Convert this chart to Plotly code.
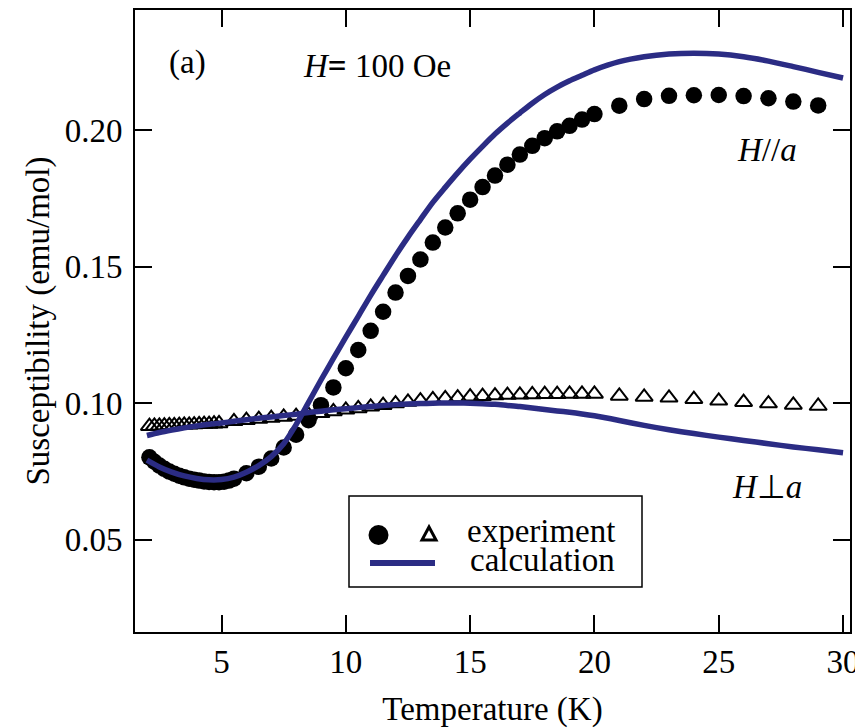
import plotly.graph_objects as go

# ---------------- data ----------------
# H // a, experiment (filled circles)
T_par_exp = [2.1, 2.3, 2.5, 2.7, 2.9, 3.1, 3.3, 3.5, 3.7, 3.9, 4.1, 4.3, 4.5, 4.7, 4.9, 5.1, 5.3, 5.5,
             6.0, 6.5, 7.0, 7.5, 8.0, 8.5, 9.0, 9.5, 10.0, 10.5, 11.0, 11.5, 12.0, 12.5, 13.0, 13.5,
             14.0, 14.5, 15.0, 15.5, 16.0, 16.5, 17.0, 17.5, 18.0, 18.5, 19.0, 19.5, 20.0,
             21, 22, 23, 24, 25, 26, 27, 28, 29]
chi_par_exp = [0.0802, 0.0786, 0.0772, 0.0760, 0.0750, 0.0742, 0.0735, 0.0729, 0.0724, 0.0720, 0.0717,
               0.0714, 0.0712, 0.0711, 0.0711, 0.0713, 0.0717, 0.0724,
               0.0744, 0.0768, 0.0798, 0.0838, 0.0885, 0.0938, 0.0993, 0.1058, 0.1128, 0.1195, 0.1265,
               0.1335, 0.1405, 0.1466, 0.1526, 0.1588, 0.1643, 0.1695, 0.1745, 0.1791, 0.1833, 0.1873,
               0.1910, 0.1942, 0.1970, 0.1995, 0.2015, 0.2038, 0.2058,
               0.2089, 0.2113, 0.2125, 0.2127, 0.2128, 0.2124, 0.2116, 0.2104, 0.2090]

# H perp a, experiment (open triangles)
T_perp_exp = [2.1, 2.3, 2.5, 2.7, 2.9, 3.1, 3.3, 3.5, 3.7, 3.9, 4.1, 4.3, 4.5, 4.7, 4.9,
              5.5, 6.0, 6.5, 7.0, 7.5, 8.0, 8.5, 9.0, 9.5, 10.0, 10.5, 11.0, 11.5, 12.0, 12.5, 13.0,
              13.5, 14.0, 14.5, 15.0, 15.5, 16.0, 16.5, 17.0, 17.5, 18.0, 18.5, 19.0, 19.5, 20.0,
              21, 22, 23, 24, 25, 26, 27, 28, 29]
chi_perp_exp = [0.0916, 0.0917, 0.0917, 0.0918, 0.0919, 0.0919, 0.0920, 0.0921, 0.0921, 0.0922,
                0.0923, 0.0924, 0.0924, 0.0925, 0.0926,
                0.0934, 0.0938, 0.0942, 0.0946, 0.0950, 0.0953, 0.0957, 0.0963, 0.0970, 0.0976,
                0.0981, 0.0987, 0.0993, 0.0999, 0.1005, 0.1010, 0.1014, 0.1018, 0.1021, 0.1024,
                0.1026, 0.1028, 0.1030, 0.1031, 0.1032, 0.1033, 0.1033, 0.1034, 0.1034, 0.1034,
                0.1027, 0.1023, 0.1020, 0.1015, 0.1009, 0.1004, 0.0999, 0.0994, 0.0990]

# calculations
T_calc = [2.0, 2.5, 3.0, 3.5, 4.0, 4.5, 5.0, 5.5, 6.0, 6.5, 7.0, 7.5, 8.0, 8.5, 9.0, 9.5, 10.0,
          10.5, 11.0, 11.5, 12.0, 12.5, 13.0, 13.5, 14.0, 14.5, 15.0, 15.5, 16.0, 16.5, 17.0,
          17.5, 18.0, 18.5, 19.0, 19.5, 20.0, 21, 22, 23, 24, 25, 26, 27, 28, 29, 30]
chi_par_calc = [0.0792, 0.0767, 0.0748, 0.0734, 0.0725, 0.0720, 0.0721, 0.0730, 0.0748, 0.0772,
                0.0805, 0.0852, 0.0922, 0.1003, 0.1085, 0.1164, 0.1242, 0.1318, 0.1395, 0.1468,
                0.1540, 0.1608, 0.1672, 0.1735, 0.1790, 0.1843, 0.1893, 0.1940, 0.1985, 0.2025,
                0.2062, 0.2098, 0.2130, 0.2157, 0.2180, 0.2200, 0.2220,
                0.2250, 0.2268, 0.2278, 0.2281, 0.2278, 0.2268, 0.2252, 0.2232, 0.2211, 0.2190]
chi_perp_calc = [0.0882, 0.0893, 0.0902, 0.0910, 0.0917, 0.0923, 0.0928, 0.0934, 0.0940, 0.0945,
                 0.0950, 0.0955, 0.0960, 0.0966, 0.0971, 0.0976, 0.0980, 0.0984, 0.0988, 0.0992,
                 0.0995, 0.0997, 0.0999, 0.1000, 0.1001, 0.1001, 0.1000, 0.0998, 0.0996, 0.0992,
                 0.0988, 0.0983, 0.0977, 0.0972, 0.0967, 0.0961, 0.0954,
                 0.0937, 0.0919, 0.0903, 0.0889, 0.0876, 0.0864, 0.0852, 0.0840, 0.0830, 0.0819]

x_ticks = [5, 10, 15, 20, 25, 30]
y_ticks = [0.05, 0.10, 0.15, 0.20]
y_ticktext = ["0.05", "0.10", "0.15", "0.20"]

# ---------------- style ----------------
BLUE = "#2b2c84"
FONT = "Liberation Serif"
FS = 33

fig = go.Figure()
fig.add_trace(go.Scatter(x=T_par_exp, y=chi_par_exp, mode="markers",
                         marker=dict(symbol="circle", size=16.5, color="black"),
                         showlegend=False))
fig.add_trace(go.Scatter(x=T_perp_exp, y=chi_perp_exp, mode="markers",
                         marker=dict(symbol="triangle-up-open", size=15, color="black",
                                     line=dict(width=2, color="black")),
                         showlegend=False))
fig.add_trace(go.Scatter(x=T_calc, y=chi_par_calc, mode="lines",
                         line=dict(color=BLUE, width=5.5, shape="spline", smoothing=0.8),
                         showlegend=False))
fig.add_trace(go.Scatter(x=T_calc, y=chi_perp_calc, mode="lines",
                         line=dict(color=BLUE, width=5.5, shape="spline", smoothing=0.8),
                         showlegend=False))

# The page body adds an 8 px margin, so the figure is 8 px smaller than the window
# and the plot area (page pixels 135..850 x 10..632) is placed accordingly.
OFF = 8
W, H = 863 - OFF, 728 - OFF
L, T = 135 - OFF, 10 - OFF
R, B = W - (850 - OFF), H - (632 - OFF)
PX0, PX1, PY0, PY1 = 135, 850, 10, 632  # plot area in page pixels


def px(xp):
    return (xp - PX0) / (PX1 - PX0)


def py(yp):
    return (PY1 - yp) / (PY1 - PY0)


axis_common = dict(showline=True, linewidth=2, linecolor="black", mirror="ticks",
                   ticks="inside", ticklen=17, tickwidth=2, tickcolor="black",
                   showgrid=False, zeroline=False,
                   tickfont=dict(family=FONT, size=FS, color="black"))

fig.update_xaxes(range=[1.52, 30.28], tickvals=x_ticks, ticklabelstandoff=-1,
                 title=dict(text="Temperature (K)", font=dict(family=FONT, size=FS, color="black"),
                            standoff=20),
                 **axis_common)
fig.update_yaxes(range=[0.0163, 0.2439], tickvals=y_ticks, ticktext=y_ticktext, ticklabelstandoff=4,
                 title=dict(text="Susceptibility (emu/mol)",
                            font=dict(family=FONT, size=FS, color="black"), standoff=5),
                 **axis_common)

# legend box (drawn manually)
shapes = [
    dict(type="rect", xref="paper", yref="paper", x0=px(349), x1=px(642), y0=py(587), y1=py(496),
         line=dict(color="black", width=1.5), fillcolor="white", layer="above"),
    dict(type="circle", xref="paper", yref="paper", x0=px(368.5), x1=px(388.5), y0=py(545),
         y1=py(525), fillcolor="black", line=dict(color="black", width=0), layer="above"),
    dict(type="path", xref="paper", yref="paper",
         path="M {:.4f},{:.4f} L {:.4f},{:.4f} L {:.4f},{:.4f} Z".format(
             px(422), py(540), px(436), py(540), px(429), py(527)),
         line=dict(color="black", width=3), layer="above"),
    dict(type="line", xref="paper", yref="paper", x0=px(370), x1=px(435), y0=py(563), y1=py(563),
         line=dict(color=BLUE, width=6), layer="above"),
]

annotations = [
    dict(text="experiment", x=px(617), y=py(531), xanchor="right", yanchor="middle"),
    dict(text="calculation", x=px(617), y=py(560), xanchor="right", yanchor="middle"),
    dict(text="(a)", x=px(187), y=py(62), xanchor="center", yanchor="middle"),
    dict(text="<i>H</i><b>=</b> 100 Oe", x=px(377), y=py(66), xanchor="center", yanchor="middle"),
    dict(text="<i>H</i>//<i>a</i>", x=px(767), y=py(150), xanchor="center", yanchor="middle"),
    dict(text="<i>H</i>⊥<i>a</i>", x=px(767), y=py(487), xanchor="center", yanchor="middle"),
]
for a in annotations:
    a.update(xref="paper", yref="paper", showarrow=False,
             font=dict(family=FONT, size=FS, color="black"))

fig.update_layout(width=W, height=H, margin=dict(l=L, r=R, t=T, b=B, autoexpand=False),
                  paper_bgcolor="white", plot_bgcolor="white",
                  font=dict(family=FONT, size=FS, color="black"),
                  shapes=shapes, annotations=annotations, showlegend=False)

fig.write_html("out.html")
